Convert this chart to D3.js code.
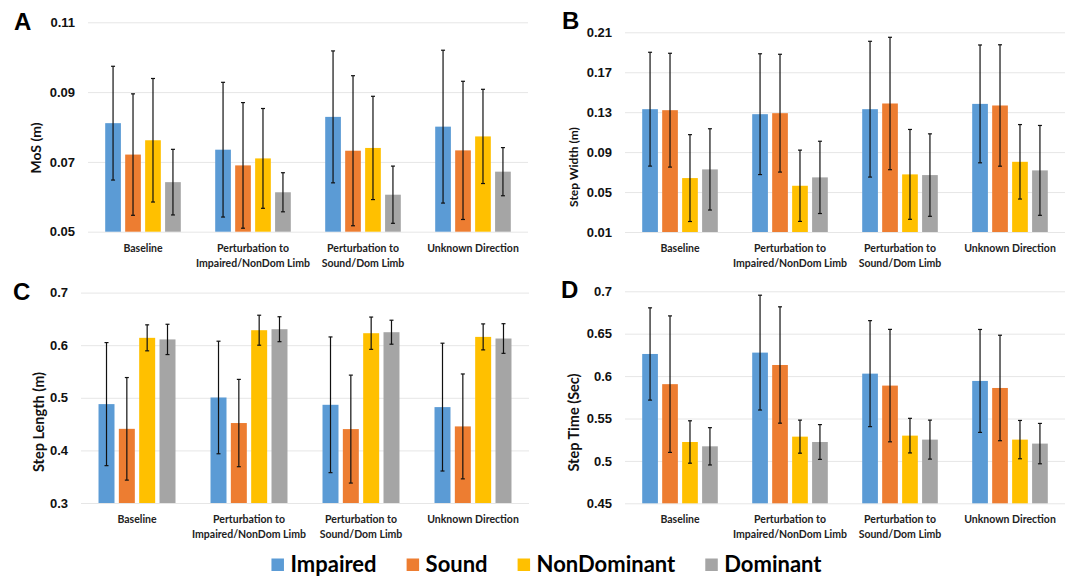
<!DOCTYPE html>
<html>
<head>
<meta charset="utf-8">
<script src="https://cdn.jsdelivr.net/npm/d3@7"></script>
<style>
  body { margin: 0; background: #fff; }
  svg { display: block; font-family: Lato, "Open Sans", sans-serif; }
</style>
</head>
<body>
<div id="chart"></div>
<script>
// categories and series
const categories = [["Baseline"], ["Perturbation to", "Impaired/NonDom Limb"], ["Perturbation to", "Sound/Dom Limb"], ["Unknown Direction"]];
const groups = ["Impaired", "Sound", "NonDominant", "Dominant"];
const colors = ["#5B9BD5", "#ED7D31", "#FFC000", "#A5A5A5"];

// A - MoS (m), rows = categories, cols = groups
const mosMean = [[0.0811, 0.0721, 0.0762, 0.0642], [0.0735, 0.0690, 0.0710, 0.0613], [0.0829, 0.0732, 0.0740, 0.0606], [0.0801, 0.0733, 0.0773, 0.0672]];
const mosSd = [[0.0163, 0.0174, 0.0177, 0.0094], [0.0193, 0.0180, 0.0143, 0.0056], [0.0189, 0.0215, 0.0148, 0.0082], [0.0219, 0.0198, 0.0135, 0.0069]];
const mosTicks = [0.05, 0.07, 0.09, 0.11];
const mosTickLabels = ["0.05", "0.07", "0.09", "0.11"];

// B - Step Width (m)
const widthMean = [[0.133, 0.132, 0.064, 0.0727], [0.128, 0.129, 0.0563, 0.0647], [0.133, 0.1387, 0.0677, 0.067], [0.1383, 0.1367, 0.0803, 0.0717]];
const widthSd = [[0.057, 0.057, 0.0435, 0.0407], [0.0605, 0.059, 0.0357, 0.0362], [0.068, 0.0663, 0.045, 0.0413], [0.059, 0.0608, 0.0373, 0.045]];
const widthTicks = [0.01, 0.05, 0.09, 0.13, 0.17, 0.21];
const widthTickLabels = ["0.01", "0.05", "0.09", "0.13", "0.17", "0.21"];

// C - Step Length (m)
const lengthMean = [[0.488, 0.441, 0.614, 0.611], [0.5006, 0.452, 0.6285, 0.6304], [0.4867, 0.4405, 0.6228, 0.6247], [0.4823, 0.4456, 0.6158, 0.6127]];
const lengthSd = [[0.117, 0.0975, 0.0247, 0.0288], [0.107, 0.083, 0.0285, 0.0237], [0.129, 0.1026, 0.0307, 0.0228], [0.1215, 0.0997, 0.0247, 0.0282]];
const lengthTicks = [0.3, 0.4, 0.5, 0.6, 0.7];
const lengthTickLabels = ["0.3", "0.4", "0.5", "0.6", "0.7"];

// D - Step Time (Sec)
const timeMean = [[0.6261, 0.5905, 0.5223, 0.5172], [0.6277, 0.6131, 0.5286, 0.5223], [0.6029, 0.5888, 0.5298, 0.5251], [0.5943, 0.586, 0.5251, 0.5204]];
const timeSd = [[0.0544, 0.0805, 0.025, 0.022], [0.0677, 0.0686, 0.0195, 0.0205], [0.0625, 0.0663, 0.0204, 0.023], [0.0607, 0.0622, 0.0226, 0.0238]];
const timeTicks = [0.45, 0.5, 0.55, 0.6, 0.65, 0.7];
const timeTickLabels = ["0.45", "0.5", "0.55", "0.6", "0.65", "0.7"];

const w = 1072, h = 577;

const svg = d3.select("#chart")
    .append("svg")
    .attr("width", w)
    .attr("height", h);

// panel layout
const panels = [
    { letter: "A", lx: 14, ly: 30, title: "MoS (m)", tx: 36, ty: 148, tsize: 14,
      left: 88, right: 528, top: 22.3, bottom: 231.7,
      mean: mosMean, sd: mosSd, ticks: mosTicks, labels: mosTickLabels },
    { letter: "B", lx: 562, ly: 29, title: "Step Width (m)", tx: 573.5, ty: 167, tsize: 12,
      left: 625, right: 1065, top: 32.3, bottom: 232,
      mean: widthMean, sd: widthSd, ticks: widthTicks, labels: widthTickLabels },
    { letter: "C", lx: 13, ly: 300, title: "Step Length (m)", tx: 38.7, ty: 422, tsize: 14.5,
      left: 81, right: 529, top: 292.6, bottom: 503,
      mean: lengthMean, sd: lengthSd, ticks: lengthTicks, labels: lengthTickLabels },
    { letter: "D", lx: 561, ly: 298, title: "Step Time (Sec)", tx: 573.5, ty: 422.5, tsize: 14.5,
      left: 625, right: 1065, top: 291.3, bottom: 503.3,
      mean: timeMean, sd: timeSd, ticks: timeTicks, labels: timeTickLabels }
];

panels.forEach(drawPanel);

function drawPanel(p) {
    const g = svg.append("g");

    const x0 = d3.scaleBand()
        .domain(d3.range(categories.length))
        .range([p.left, p.right])
        .paddingInner(0.3127)
        .paddingOuter(0.1564);

    const x1 = d3.scaleBand()
        .domain(groups)
        .range([0, x0.bandwidth()])
        .paddingInner(0.2137);

    const y = d3.scaleLinear()
        .domain([p.ticks[0], p.ticks[p.ticks.length - 1]])
        .range([p.bottom, p.top]);

    // gridlines + tick labels
    const yAxis = g.append("g")
        .attr("transform", "translate(" + p.left + ",0)")
        .call(d3.axisLeft(y)
            .tickValues(p.ticks)
            .tickSize(-(p.right - p.left))
            .tickPadding(13)
            .tickFormat((d, i) => p.labels[i]));
    yAxis.select(".domain").remove();
    yAxis.selectAll(".tick line").attr("stroke", "#e6e6e6");
    yAxis.selectAll(".tick text")
        .attr("fill", "#111")
        .style("font-size", "13px")
        .style("font-weight", "700");

    // bars
    const cat = g.selectAll(".cat")
        .data(p.mean)
        .enter()
        .append("g")
        .attr("class", "cat")
        .attr("transform", (d, i) => "translate(" + x0(i) + ",0)");

    cat.selectAll("rect")
        .data(d => d)
        .enter()
        .append("rect")
        .attr("x", (d, j) => x1(groups[j]))
        .attr("y", d => y(d))
        .attr("width", x1.bandwidth())
        .attr("height", d => p.bottom - y(d))
        .attr("fill", (d, j) => colors[j]);

    // error bars
    const err = [];
    p.mean.forEach((row, i) => row.forEach((m, j) => err.push({ i: i, j: j, m: m, s: p.sd[i][j] })));

    const eb = g.selectAll(".err")
        .data(err)
        .enter()
        .append("g")
        .attr("class", "err")
        .attr("stroke", "#111")
        .attr("stroke-width", 1.2);

    const cx = d => x0(d.i) + x1(groups[d.j]) + x1.bandwidth() / 2;

    eb.append("line")
        .attr("x1", cx).attr("x2", cx)
        .attr("y1", d => y(d.m + d.s))
        .attr("y2", d => y(d.m - d.s));
    eb.append("line")
        .attr("x1", d => cx(d) - 2).attr("x2", d => cx(d) + 2)
        .attr("y1", d => y(d.m + d.s)).attr("y2", d => y(d.m + d.s));
    eb.append("line")
        .attr("x1", d => cx(d) - 2).attr("x2", d => cx(d) + 2)
        .attr("y1", d => y(d.m - d.s)).attr("y2", d => y(d.m - d.s));

    // category labels
    const lab = g.selectAll(".catlabel")
        .data(categories)
        .enter()
        .append("text")
        .attr("class", "catlabel")
        .attr("x", (d, i) => x0(i) + x0.bandwidth() / 2)
        .attr("y", p.bottom + 20)
        .style("text-anchor", "middle")
        .style("font-size", "10.5px")
        .style("font-weight", "700")
        .attr("fill", "#222");
    lab.selectAll("tspan")
        .data(d => d)
        .enter()
        .append("tspan")
        .attr("x", function () { return this.parentNode.getAttribute("x"); })
        .attr("dy", (d, k) => k === 0 ? 0 : 15)
        .text(d => d);

    // axis title
    g.append("text")
        .attr("transform", "translate(" + p.tx + "," + p.ty + ") rotate(-90)")
        .attr("dy", "0.35em")
        .style("text-anchor", "middle")
        .style("font-size", p.tsize + "px")
        .style("font-weight", "700")
        .attr("fill", "#111")
        .text(p.title);

    // panel letter
    g.append("text")
        .attr("x", p.lx)
        .attr("y", p.ly)
        .style("font-family", "'Liberation Sans', Arial, sans-serif")
        .style("font-size", "24px")
        .style("font-weight", "700")
        .attr("fill", "#000")
        .text(p.letter);
}

// legend
const legend = svg.append("g");
const items = legend.selectAll(".item")
    .data(groups)
    .enter()
    .append("g")
    .attr("class", "item");

items.append("rect")
    .attr("width", 12.5)
    .attr("height", 12.5)
    .attr("y", 558.5)
    .attr("fill", (d, i) => colors[i]);

items.append("text")
    .attr("x", 19)
    .attr("y", 571.5)
    .style("font-size", "22px")
    .style("font-weight", "700")
    .attr("fill", "#000")
    .text(d => d);

let pos = 0;
const offsets = [];
items.each(function () {
    offsets.push(pos);
    pos += 19 + d3.select(this).select("text").node().getComputedTextLength() + 30;
});
const total = pos - 30;
const start = 546.5 - total / 2;
items.attr("transform", (d, i) => "translate(" + (start + offsets[i]) + ",0)");
</script>
</body>
</html>
